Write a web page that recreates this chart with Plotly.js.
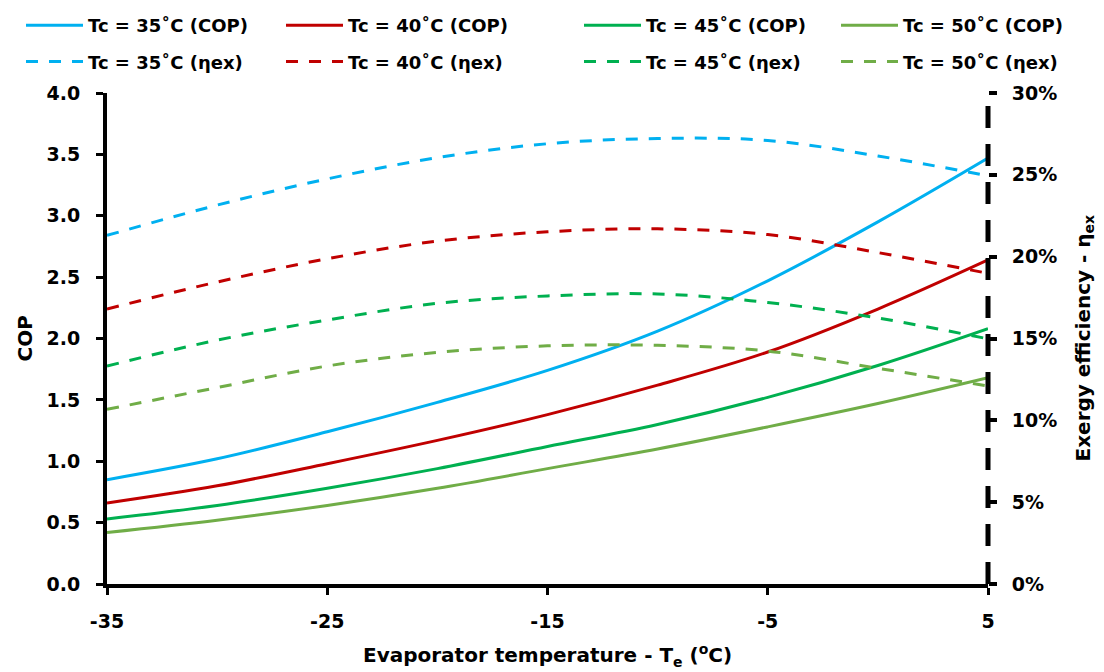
<!DOCTYPE html>
<html><head><meta charset="utf-8">
<script src="https://cdn.plot.ly/plotly-3.0.1.min.js"></script>
<style>body{margin:0;background:#fff}#chart{width:1104px;height:672px}</style>
</head><body><div id="chart"></div>
<script>
const te = [-35, -30, -25, -20, -15, -10, -5, 0, 5];
const cop35 = [0.85, 1.02, 1.24, 1.48, 1.74, 2.06, 2.47, 2.95, 3.47];
const cop40 = [0.66, 0.80, 0.98, 1.17, 1.38, 1.62, 1.89, 2.24, 2.64];
const cop45 = [0.53, 0.64, 0.78, 0.94, 1.12, 1.30, 1.52, 1.78, 2.08];
const cop50 = [0.42, 0.52, 0.64, 0.78, 0.94, 1.10, 1.28, 1.47, 1.68];
const ex35 = [21.3, 23.15, 24.75, 26.05, 26.9, 27.22, 27.1, 26.15, 24.94];
const ex40 = [16.8, 18.45, 19.87, 20.95, 21.52, 21.7, 21.35, 20.25, 18.98];
const ex45 = [13.32, 14.9, 16.13, 17.15, 17.6, 17.72, 17.2, 16.25, 14.98];
const ex50 = [10.67, 12.0, 13.32, 14.15, 14.55, 14.58, 14.23, 13.18, 12.1];
const tcLabels = ['35', '40', '45', '50'];
const colors = ['#00B0F0', '#C00000', '#00B050', '#70AD47'];
const xTickVals = [-35, -25, -15, -5, 5];
const xTickText = ['-35', '-25', '-15', '-5', '5'];
const xTitle = 'Evaporator temperature - T<sub>e</sub> (<sup>o</sup>C)';
const yTitle = 'COP';
const y2Title = 'Exergy efficiency - η<sub>ex</sub>';

const copSeries = [cop35, cop40, cop45, cop50];
const exSeries = [ex35, ex40, ex45, ex50];
const legendIds = ['legend', 'legend2', 'legend3', 'legend4'];
const traces = [];
for (let i = 0; i < 4; i++) {
  traces.push({
    x: te, y: copSeries[i], type: 'scatter', mode: 'lines', yaxis: 'y',
    name: 'Tc = ' + tcLabels[i] + '˚C (COP)', legend: legendIds[i], legendgroup: 'c' + i,
    line: {color: colors[i], width: 3, shape: 'spline'}, hoverinfo: 'skip'
  });
  traces.push({
    x: te, y: exSeries[i], type: 'scatter', mode: 'lines', yaxis: 'y2',
    name: 'Tc = ' + tcLabels[i] + '˚C (ηex)', legend: legendIds[i], legendgroup: 'e' + i,
    line: {color: colors[i], width: 3, shape: 'spline', dash: '12px,11px'}, hoverinfo: 'skip'
  });
}
const FAM = '"DejaVu Sans", "Open Sans", sans-serif';
const F = {family: FAM, size: 18, color: '#000', weight: 'bold'};
const FT = {family: FAM, size: 19, color: '#000', weight: 'bold'};
const FTitle = {family: FAM, size: 20, color: '#000', weight: 'bold'};
const legendX = [21, 281, 579, 836];
const layout = {
  width: 1104, height: 672,
  paper_bgcolor: '#fff', plot_bgcolor: '#fff',
  margin: {l: 107, r: 116, t: 93, b: 88, autoexpand: false},
  font: F,
  xaxis: {
    range: [-35, 5], tickvals: xTickVals, ticktext: xTickText, showline: true, linewidth: 4, linecolor: '#000',
    ticks: 'outside', ticklen: 7, tickwidth: 3, tickcolor: '#000', showgrid: false, zeroline: false,
    tickfont: FT, ticklabelstandoff: 10
  },
  yaxis: {
    range: [0, 4], dtick: 0.5, tickformat: '.1f', showline: true, linewidth: 4, linecolor: '#000',
    ticks: 'outside', ticklen: 7, tickwidth: 3, tickcolor: '#000', showgrid: false, zeroline: false,
    tickfont: FT, ticklabelstandoff: 12
  },
  yaxis2: {
    range: [0, 30], dtick: 5, ticksuffix: '%', overlaying: 'y', side: 'right', showline: false,
    ticks: 'outside', ticklen: 8, tickwidth: 4, tickcolor: '#000', showgrid: false, zeroline: false,
    tickfont: FT, ticklabelstandoff: 11
  },
  shapes: [{
    type: 'line', xref: 'paper', yref: 'paper', x0: 1, x1: 1, y0: 0, y1: 1, layer: 'above',
    line: {color: '#000', width: 5, dash: '22px,16px'}
  }],
  annotations: [
    {text: xTitle, xref: 'paper', yref: 'paper', x: 0.5, y: 0, yshift: -71, xanchor: 'center', yanchor: 'middle', showarrow: false, font: FTitle},
    {text: yTitle, xref: 'paper', yref: 'paper', x: 0, y: 0.5, xshift: -83, xanchor: 'center', yanchor: 'middle', textangle: -90, showarrow: false, font: FTitle},
    {text: y2Title, xref: 'paper', yref: 'paper', x: 1, y: 0.5, xshift: 95, xanchor: 'center', yanchor: 'middle', textangle: -90, showarrow: false, font: FTitle}
  ],
  showlegend: true
};
for (let i = 0; i < 4; i++) {
  layout[legendIds[i]] = {
    xref: 'container', yref: 'container', x: legendX[i] / 1104, y: 1 - 7 / 672,
    xanchor: 'left', yanchor: 'top', orientation: 'v', font: F, bgcolor: 'rgba(0,0,0,0)',
    tracegroupgap: 10, itemwidth: 57, traceorder: 'grouped'
  };
}
Plotly.newPlot('chart', traces, layout, {displayModeBar: false, staticPlot: true});
</script></body></html>
